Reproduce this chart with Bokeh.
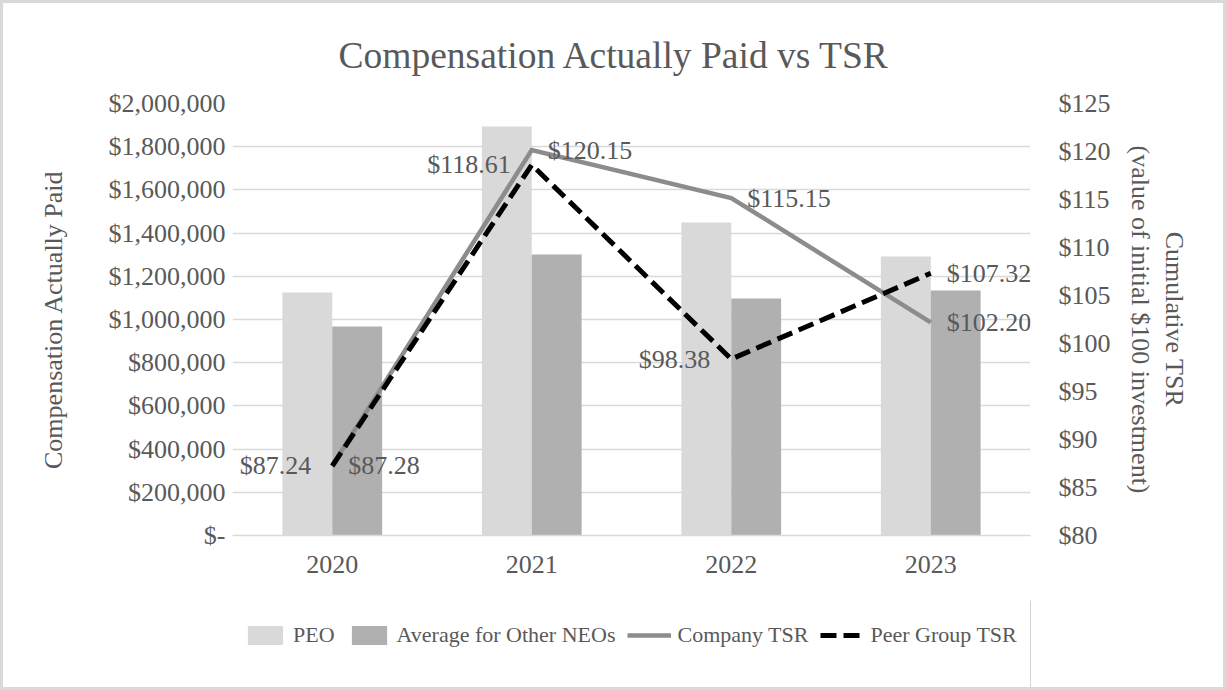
from bokeh.plotting import figure
from bokeh.layouts import column
from bokeh.models import (Range1d, LinearAxis, FixedTicker, Legend, LegendItem,
                          ColumnDataSource, FactorRange)
from bokeh.transform import dodge
from bokeh.core.properties import value
from bokeh.embed import file_html
from bokeh.resources import INLINE

# ---- data ----
title_text = "Compensation Actually Paid vs TSR"
years = ["2020", "2021", "2022", "2023"]
peo_cap = [1125000, 1894000, 1449000, 1292000]
neo_cap = [968000, 1301000, 1097000, 1134000]
company_tsr = [87.28, 120.15, 115.15, 102.20]
peer_tsr = [87.24, 118.61, 98.38, 107.32]
left_ticks = [0, 200000, 400000, 600000, 800000, 1000000, 1200000, 1400000,
              1600000, 1800000, 2000000]
right_ticks = [80, 85, 90, 95, 100, 105, 110, 115, 120, 125]
series_names = ["PEO", "Average for Other NEOs", "Company TSR", "Peer Group TSR"]

FONT = "Liberation Serif"
FS = "26px"
TXT = "#595959"
GRID = "#d9d9d9"
C_PEO, C_NEO, C_COMP, C_PEER = "#d9d9d9", "#b0b0b0", "#8c8c8c", "black"

src = ColumnDataSource(dict(
    years=years, peo=peo_cap, neo=neo_cap, company=company_tsr, peer=peer_tsr,
    company_lbl=[f"${v:.2f}" for v in company_tsr],
))
peer_left = ColumnDataSource(dict(years=years[:3], peer=peer_tsr[:3],
                                  lbl=[f"${v:.2f}" for v in peer_tsr[:3]]))
peer_right = ColumnDataSource(dict(years=years[3:], peer=peer_tsr[3:],
                                   lbl=[f"${v:.2f}" for v in peer_tsr[3:]]))

p = figure(x_range=FactorRange(factors=years), y_range=Range1d(0, 2000000),
           width=1220, height=597, output_backend="svg", toolbar_location=None,
           min_border_left=229, min_border_right=193, min_border_top=100,
           min_border_bottom=65)
p.extra_y_ranges = {"tsr": Range1d(80, 125)}
p.outline_line_color = None
p.background_fill_color = "white"
p.border_fill_color = "white"

# title
p.title.text = title_text
p.title.text_font = FONT
p.title.text_font_size = "37.5px"
p.title.text_font_style = "normal"
p.title.text_color = TXT
p.title.align = "left"
p.title.offset = 106
p.title.standoff = 56

# bars
p.vbar(x=dodge("years", -0.125, range=p.x_range), top="peo", width=0.25,
       source=src, fill_color=C_PEO, line_color=None)
p.vbar(x=dodge("years", 0.125, range=p.x_range), top="neo", width=0.25,
       source=src, fill_color=C_NEO, line_color=None)

# lines
p.line(x="years", y="company", source=src, y_range_name="tsr",
       line_color=C_COMP, line_width=4.5, line_join="miter")
p.line(x="years", y="peer", source=src, y_range_name="tsr",
       line_color=C_PEER, line_width=5, line_dash="16 7", line_join="miter")

# data labels
common = dict(y_range_name="tsr", text_font=value(FONT), text_font_size=FS,
              text_color=TXT, text_baseline="middle")
p.text(x="years", y="company", text="company_lbl", source=src,
       x_offset=16, text_align="left", **common)
p.text(x="years", y="peer", text="lbl", source=peer_left,
       x_offset=-21, text_align="right", **common)
p.text(x="years", y="peer", text="lbl", source=peer_right,
       x_offset=16, text_align="left", **common)

# axes
yl = p.yaxis[0]
yl.ticker = FixedTicker(ticks=left_ticks)
yl.major_label_overrides = {t: ("$-" if t == 0 else f"${t:,.0f}") for t in left_ticks}
yl.axis_label = "Compensation Actually Paid"
yr = LinearAxis(y_range_name="tsr", ticker=FixedTicker(ticks=right_ticks),
                axis_label="Cumulative TSR\n(value of initial $100 investment)")
yr.major_label_overrides = {t: f"${t}" for t in right_ticks}
p.add_layout(yr, "right")

for ax in (yl, yr, p.xaxis[0]):
    ax.major_label_text_font = FONT
    ax.major_label_text_font_size = FS
    ax.major_label_text_color = TXT
    ax.axis_label_text_font = FONT
    ax.axis_label_text_font_size = FS
    ax.axis_label_text_font_style = "normal"
    ax.axis_label_text_color = TXT
    ax.major_tick_line_color = None
    ax.minor_tick_line_color = None
    ax.major_tick_out = 0
    ax.major_tick_in = 0
    ax.minor_tick_out = 0
yl.axis_line_color = None
yr.axis_line_color = None
yl.major_label_standoff = 7
yr.major_label_standoff = 28
yl.axis_label_standoff = 38
yr.axis_label_standoff = 12
xa = p.xaxis[0]
xa.axis_line_color = GRID
xa.axis_line_width = 1.5
xa.major_label_standoff = 20

p.xgrid.visible = False
p.ygrid.ticker = FixedTicker(ticks=left_ticks)
p.ygrid.grid_line_color = GRID
p.ygrid.grid_line_width = 1.5

# ---- legend strip (its frame lines up with the chart frame) ----
lg = figure(width=1220, height=87, output_backend="svg", toolbar_location=None,
            x_range=Range1d(0, 1), y_range=Range1d(0, 1),
            x_axis_location=None, y_axis_location=None,
            min_border=0, min_border_left=0, min_border_right=0,
            min_border_top=0, min_border_bottom=0)
lg.grid.visible = False
lg.outline_line_color = None
lg.border_fill_color = "white"
off = ColumnDataSource(dict(x=[50, 51], y=[50, 50]))
g_peo = lg.vbar(x="x", top="y", width=1, source=off, fill_color=C_PEO, line_color=None)
g_neo = lg.vbar(x="x", top="y", width=1, source=off, fill_color=C_NEO, line_color=None)
g_comp = lg.line(x="x", y="y", source=off, line_color=C_COMP, line_width=4.5)
g_peer = lg.line(x="x", y="y", source=off, line_color=C_PEER, line_width=5,
                 line_dash="16 7")
legend = Legend(items=[LegendItem(label=n, renderers=[r]) for n, r in
                       zip(series_names, [g_peo, g_neo, g_comp, g_peer])],
                location=(11, 39), orientation="horizontal",
                label_text_font=FONT, label_text_font_size="22px",
                label_text_color=TXT, glyph_width=44, glyph_height=24,
                label_standoff=6, spacing=12, padding=0, margin=0,
                border_line_color=None, background_fill_alpha=0)
lg.add_layout(legend)

layout = column(p, lg, spacing=0)
layout.styles = {"border": "3px solid #d9d9d9", "background-color": "white"}

open("out.html", "w").write(file_html(layout, INLINE))
